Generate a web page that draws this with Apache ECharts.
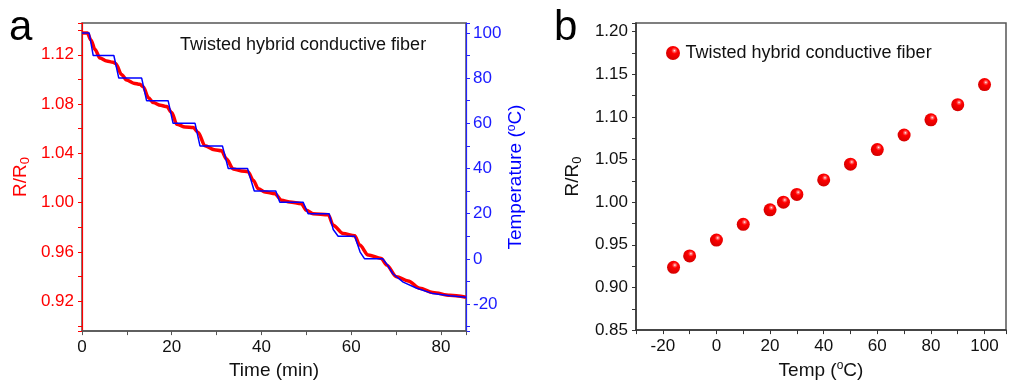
<!DOCTYPE html>
<html>
<head>
<meta charset="utf-8">
<script src="https://cdn.jsdelivr.net/npm/echarts@6/dist/echarts.min.js"></script>
<style>
  html, body { margin: 0; padding: 0; background: #fff; }
  #chart { width: 1009px; height: 385px; }
</style>
</head>
<body>
<div id="chart"></div>
<script>
// panel a - R/R0 over time (red)
const timeR = [0, 1.2, 2.0, 2.9, 4.0, 5.5, 6.9, 7.5, 8.8, 9.95, 11.5, 12.9, 13.65, 14.8, 15.9, 17.5, 18.9,
  20.0, 21.1, 23.0, 24.8, 25.9, 27.4, 29.5, 31.1, 32.2, 33.7, 35.5, 37.0, 38.2, 39.3, 40.8, 43.0,
  44.5, 46.3, 48.9, 50.0, 51.5, 54.9, 56.0, 58.2, 60.8, 61.9, 63.8, 66.7, 67.9, 70.1, 72.7, 75.3,
  78.2, 82.0, 85.6];
const ratioR = [1.1376, 1.1376, 1.132, 1.1242, 1.1175, 1.115, 1.114, 1.113, 1.104, 1.0995, 1.097, 1.096, 1.094, 1.0852, 1.0812, 1.079, 1.078,
  1.0732, 1.0637, 1.0615, 1.061, 1.057, 1.0462, 1.043, 1.0422, 1.0355, 1.0274, 1.0258, 1.0252, 1.018, 1.0113, 1.0086, 1.0073,
  1.0019, 1.0006, 0.9992, 0.9938, 0.9911, 0.9903, 0.9817, 0.975, 0.9731, 0.9656, 0.9575, 0.9548, 0.9495, 0.940, 0.9365, 0.9306,
  0.9272, 0.9248, 0.9232];

// panel a - temperature over time (blue)
const timeT = [0, 1.6, 2.5, 7.1, 8.2, 13.3, 14.4, 19.2, 20.3, 25.2, 26.3, 31.3, 32.6, 36.9, 38.4, 43.2,
  44.1, 49.3, 50.4, 55.1, 56.0, 57.1, 60.8, 62.0, 63.0, 67.0, 68.0, 69.3, 71.6, 74.5, 78.2, 82.0, 85.6];
const tempT = [100, 100, 90, 90, 80, 80, 70, 70, 60, 60, 50, 50, 40, 40, 30, 30,
  25, 25, 20, 20, 13, 10, 10, 3, 0, 0, -2.5, -6.6, -10.3, -12.9, -15.4, -16.4, -17];

// panel b - R/R0 vs temperature
const tempB = [-16, -10, 0, 10, 20, 25, 30, 40, 50, 60, 70, 80, 90, 100];
const ratioB = [0.9236, 0.937, 0.9555, 0.974, 0.991, 1.000, 1.009, 1.026, 1.0445, 1.0616, 1.0787, 1.0965, 1.1143, 1.1378];

const fiberName = 'Twisted hybrid conductive fiber';
const FONT = 'Liberation Sans, Arial, sans-serif';

function pair(xs, ys) {
  return xs.map((x, i) => [x, ys[i]]);
}
// only label ticks sitting on a multiple of step
function stepLabel(step, digits, lo, hi) {
  return function (v) {
    const k = v / step;
    if (Math.abs(k - Math.round(k)) > 1e-6) return '';
    if (v < lo - 1e-9 || v > hi + 1e-9) return '';
    return v.toFixed(digits);
  };
}

const ball = new echarts.graphic.RadialGradient(0.6, 0.33, 0.7, [
  { offset: 0, color: '#ffffff' },
  { offset: 0.12, color: '#ff7070' },
  { offset: 0.32, color: '#ff0000' },
  { offset: 1, color: '#d00000' }
]);

const chart = echarts.init(document.getElementById('chart'));
chart.setOption({
  animation: false,
  textStyle: { fontFamily: FONT },
  grid: [
    { left: 82, right: 543, top: 23, bottom: 52, show: true, borderColor: '#555', borderWidth: 1.5 },
    { left: 636, right: -5, top: 23, bottom: 52, show: true, borderColor: '#555', borderWidth: 1.5 }
  ],
  legend: {
    data: [fiberName],
    left: 661,
    top: 39,
    itemWidth: 15,
    itemHeight: 14,
    textStyle: { fontSize: 18, color: '#111', fontFamily: FONT }
  },
  graphic: [
    { type: 'text', left: 9, top: 7, style: { text: 'a', fontSize: 42, fill: '#000', fontFamily: FONT } },
    { type: 'text', left: 554, top: 7, style: { text: 'b', fontSize: 42, fill: '#000', fontFamily: FONT } },
    { type: 'text', left: 180, top: 36, style: { text: fiberName, fontSize: 18, fill: '#111', fontFamily: FONT } }
  ],
  xAxis: [
    {
      type: 'value', gridIndex: 0, min: 0, max: 85.6, interval: 10,
      name: 'Time (min)', nameLocation: 'middle', nameGap: 28,
      nameTextStyle: { fontSize: 19, color: '#111' },
      axisLine: { onZero: false, lineStyle: { color: '#555', width: 1.5 } },
      axisTick: { length: 4, lineStyle: { color: '#555' } },
      axisLabel: { fontSize: 17, color: '#111', margin: 8, formatter: stepLabel(20, 0, 0, 80) },
      splitLine: { show: false }
    },
    {
      type: 'value', gridIndex: 1, min: -30, max: 108, interval: 10,
      name: 'Temp ({sup|o}C)', nameLocation: 'middle', nameGap: 28,
      nameTextStyle: { fontSize: 19, color: '#111', rich: { sup: { fontSize: 12, color: '#111', padding: [0, 0, 9, 0] } } },
      axisLine: { onZero: false, lineStyle: { color: '#333', width: 1.5 } },
      axisTick: { length: 4, lineStyle: { color: '#333' } },
      axisLabel: { fontSize: 17, color: '#111', margin: 8, formatter: stepLabel(20, 0, -20, 100) },
      splitLine: { show: false }
    }
  ],
  yAxis: [
    {
      type: 'value', gridIndex: 0, position: 'left', min: 0.8958, max: 1.1458,
      minInterval: 0.02, maxInterval: 0.02,
      name: 'R/R{sub|0}', nameLocation: 'middle', nameGap: 50, nameRotate: 90,
      nameTextStyle: { fontSize: 19, color: '#ff0000', rich: { sub: { fontSize: 13, color: '#ff0000', padding: [9, 0, 0, 0] } } },
      axisLine: { show: true, onZero: false, lineStyle: { color: '#ff0000', width: 1.2 } },
      axisTick: { length: 4, lineStyle: { color: '#ff0000' } },
      axisLabel: { fontSize: 17, color: '#ff0000', margin: 8, formatter: stepLabel(0.04, 2, 0.92, 1.12) },
      splitLine: { show: false }
    },
    {
      type: 'value', gridIndex: 0, position: 'right', min: -32, max: 104.4,
      minInterval: 10, maxInterval: 10,
      name: 'Temperature ({sup|o}C)', nameLocation: 'middle', nameGap: 38, nameRotate: 90,
      nameTextStyle: { fontSize: 19, color: '#0000ff', rich: { sup: { fontSize: 12, color: '#0000ff', padding: [0, 0, 9, 0] } } },
      axisLine: { show: true, onZero: false, lineStyle: { color: '#2222ff', width: 1.2 } },
      axisTick: { length: 4, lineStyle: { color: '#2222ff' } },
      axisLabel: { fontSize: 17, color: '#1a1aff', margin: 7, formatter: stepLabel(20, 0, -20, 100) },
      splitLine: { show: false }
    },
    {
      type: 'value', gridIndex: 1, min: 0.85, max: 1.21, interval: 0.025,
      name: 'R/R{sub|0}', nameLocation: 'middle', nameGap: 52, nameRotate: 90,
      nameTextStyle: { fontSize: 19, color: '#111', rich: { sub: { fontSize: 13, color: '#111', padding: [9, 0, 0, 0] } } },
      axisLine: { show: true, onZero: false, lineStyle: { color: '#333', width: 1.5 } },
      axisTick: { length: 4, lineStyle: { color: '#333' } },
      axisLabel: { fontSize: 17, color: '#111', margin: 8, formatter: stepLabel(0.05, 2, 0.85, 1.2) },
      splitLine: { show: false }
    }
  ],
  series: [
    {
      name: 'R/R0', type: 'line', xAxisIndex: 0, yAxisIndex: 0,
      data: pair(timeR, ratioR), showSymbol: false, smooth: 0.3, smoothMonotone: 'x',
      lineStyle: { color: '#ff0000', width: 3.5 }
    },
    {
      name: 'Temperature', type: 'line', xAxisIndex: 0, yAxisIndex: 1,
      data: pair(timeT, tempT), showSymbol: false,
      lineStyle: { color: '#0000ff', width: 1.5 }
    },
    {
      name: fiberName, type: 'scatter', xAxisIndex: 1, yAxisIndex: 2,
      data: pair(tempB, ratioB), symbol: 'circle', symbolSize: 13,
      itemStyle: { color: ball, opacity: 1 }
    }
  ]
});
</script>
</body>
</html>
